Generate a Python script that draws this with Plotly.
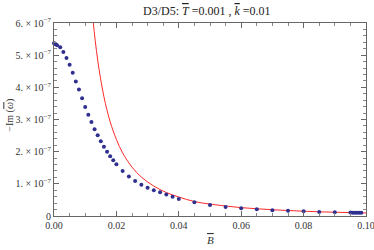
import plotly.graph_objects as go

# Numerical data (blue dots)
b_dots = [0.0, 0.0002, 0.0005, 0.001, 0.002, 0.003, 0.004, 0.005, 0.006, 0.007, 0.008,
          0.009, 0.010, 0.011, 0.012, 0.013, 0.014, 0.015, 0.016, 0.017, 0.018, 0.019,
          0.020, 0.022, 0.024, 0.026, 0.028, 0.030, 0.032, 0.034, 0.036, 0.038, 0.040,
          0.045, 0.050, 0.055, 0.060, 0.065, 0.070, 0.075, 0.080, 0.085, 0.090,
          0.095, 0.0957, 0.0964, 0.0971, 0.0978, 0.0985]
im_dots = [5.37, 5.36, 5.34, 5.31, 5.25, 5.10, 4.91, 4.70, 4.45, 4.18, 3.93,
           3.66, 3.39, 3.15, 2.92, 2.70, 2.51, 2.32, 2.15, 2.00, 1.86, 1.73,
           1.61, 1.40, 1.23, 1.09, 0.97, 0.88, 0.80, 0.74, 0.67, 0.60, 0.53,
           0.425, 0.34, 0.28, 0.24, 0.21, 0.18, 0.165, 0.146, 0.124, 0.115,
           0.105, 0.104, 0.103, 0.102, 0.101, 0.100]

# Analytic approximation (red curve)
b_curve = [0.0120, 0.0126, 0.014, 0.016, 0.018, 0.020, 0.022, 0.025, 0.028, 0.032, 0.036,
           0.040, 0.045, 0.050, 0.055, 0.060, 0.065, 0.070, 0.075, 0.080, 0.085,
           0.090, 0.095, 0.100]
im_curve = [6.60, 6.00, 4.85, 3.71, 2.93, 2.38, 1.96, 1.52, 1.21, 0.93, 0.73,
            0.59, 0.45, 0.37, 0.31, 0.26, 0.225, 0.195, 0.17, 0.15, 0.13,
            0.117, 0.105, 0.095]

scale = 1e-7
y_tickvals = [0, 1, 2, 3, 4, 5, 6]
y_ticktext = ["0"] + [f"{v}. × 10<sup>−7</sup>" for v in y_tickvals[1:]]
x_tickvals = [0.00, 0.02, 0.04, 0.06, 0.08, 0.10]
x_ticktext = ["0.00", "0.02", "0.04", "0.06", "0.08", "0.10"]

serif = "Liberation Serif, Times New Roman, serif"
OV = '<span style="text-decoration:overline">'

fig = go.Figure()
fig.add_trace(go.Scatter(
    x=b_curve, y=[v * scale for v in im_curve], mode="lines",
    line=dict(color="#ff2a2a", width=1, shape="spline"), showlegend=False))
fig.add_trace(go.Scatter(
    x=b_dots, y=[v * scale for v in im_dots], mode="markers",
    marker=dict(color="#2f2f90", size=4), showlegend=False, cliponaxis=False))

axis_common = dict(
    showline=True, linecolor="#666", linewidth=1, mirror="allticks",
    ticks="inside", ticklen=5, tickcolor="#666", showgrid=False, zeroline=False,
    tickfont=dict(family=serif, size=10, color="#333"), automargin=False,
    ticklabeloverflow="allow",
)

fig.update_xaxes(
    range=[0, 0.1], tickvals=x_tickvals, ticktext=x_ticktext,
    minor=dict(dtick=0.005, ticks="inside", ticklen=3, tickcolor="#888"),
    **axis_common)
fig.update_yaxes(
    range=[0, 6e-7], tickvals=[v * scale for v in y_tickvals], ticktext=y_ticktext,
    minor=dict(dtick=0.2e-7, ticks="inside", ticklen=3, tickcolor="#888"),
    **axis_common)

fig.update_layout(
    width=374, height=250,
    margin=dict(l=54, r=8, t=23, b=34, autoexpand=False),
    paper_bgcolor="white", plot_bgcolor="white",
    annotations=[
        dict(text=f"D3/D5: {OV}<i>T</i></span> =0.001 , {OV}<i>k</i></span> =0.01",
             xref="paper", yref="paper", x=0.49, y=1.0, xanchor="center", yanchor="bottom",
             yshift=3, showarrow=False,
             font=dict(family=serif, size=12, color="#222")),
        dict(text=f"{OV}<i>B</i></span>",
             xref="paper", yref="paper", x=0.5, y=0, xanchor="center", yanchor="middle",
             yshift=-24, showarrow=False,
             font=dict(family=serif, size=11, color="#333")),
        dict(text=f"−Im ({OV}<i>ω</i></span>)", textangle=-90,
             xref="paper", yref="paper", x=0, y=0.52, xanchor="center", yanchor="middle",
             xshift=-44, showarrow=False,
             font=dict(family=serif, size=10, color="#333")),
    ],
)

fig.write_html("out.html",
               config={"displayModeBar": False},
               post_script="document.body.style.margin='0';document.body.style.overflow='hidden';")
